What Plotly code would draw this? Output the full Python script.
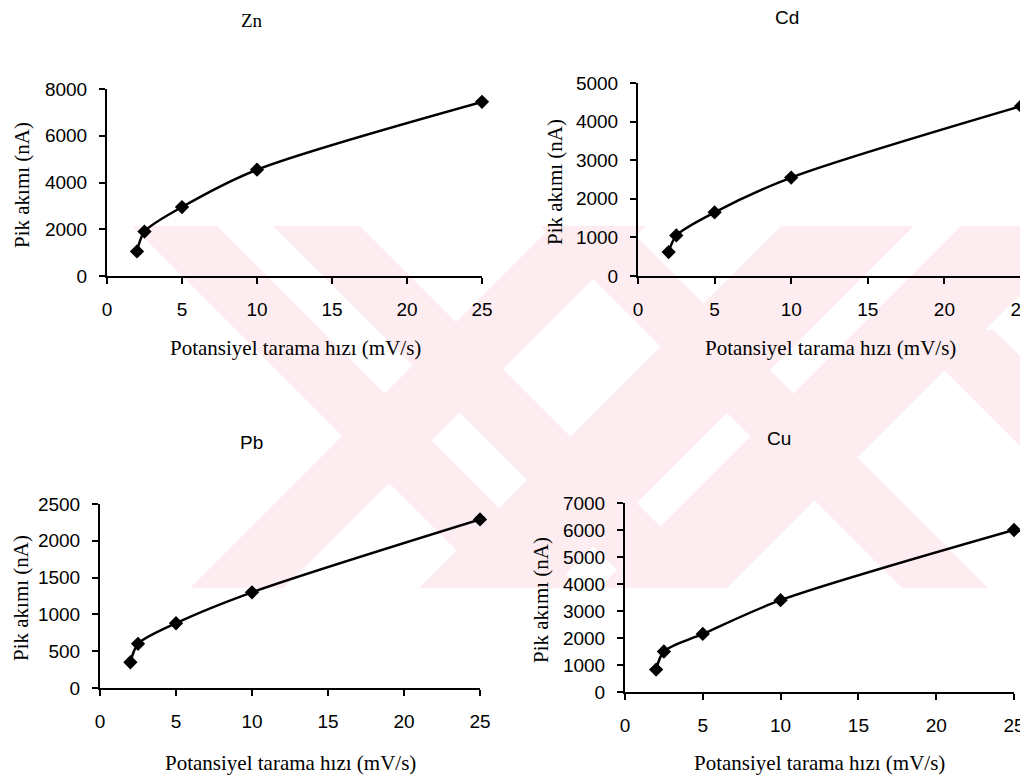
import plotly.graph_objects as go

# ---------------- data ----------------
scan_rate = [2, 2.5, 5, 10, 25]          # Potansiyel tarama hızı (mV/s)
zn_current = [1050, 1900, 2950, 4550, 7450]
cd_current = [620, 1050, 1650, 2550, 4400]
pb_current = [350, 600, 880, 1300, 2290]
cu_current = [830, 1500, 2150, 3400, 6000]

panel_names = ["Zn", "Cd", "Pb", "Cu"]
x_ticks = [0, 5, 10, 15, 20, 25]
y_max = [8000, 5000, 2500, 7000]
y_step = [2000, 1000, 500, 1000]

x_title = "Potansiyel tarama hızı (mV/s)"
y_title = "Pik akımı (nA)"

# the page body has an 8px margin, so the figure is placed at (8, 8)
OFF = 8
W, H = 1028 - OFF, 780 - OFF
SANS = "Liberation Sans, Arial, sans-serif"
SERIF = "Liberation Serif, Times New Roman, serif"

def px(x):
    return (x - OFF) / W

def py(y):
    return 1 - (y - OFF) / H

# panel pixel boxes in page pixels: (left, right, bottom, top)
boxes = [(107, 482, 276, 89), (638, 1021, 276, 83), (100, 480, 688, 504), (625, 1014, 692, 503)]
series = [zn_current, cd_current, pb_current, cu_current]

fig = go.Figure()
layout = dict(
    width=W, height=H, margin=dict(l=0, r=0, t=0, b=0, autoexpand=False),
    paper_bgcolor="white", plot_bgcolor="rgba(0,0,0,0)", showlegend=False,
)

for i, (box, ys) in enumerate(zip(boxes, series)):
    k = "" if i == 0 else str(i + 1)
    l, r, b, t = box
    fig.add_trace(go.Scatter(
        x=scan_rate, y=ys, mode="lines+markers",
        line=dict(color="black", width=2.5, shape="spline", smoothing=0.8),
        marker=dict(symbol="diamond", size=11, color="black"),
        xaxis="x" + k, yaxis="y" + k, cliponaxis=False,
    ))
    common = dict(showline=True, linecolor="black", linewidth=2, ticks="outside",
                  ticklen=6, tickwidth=2, tickcolor="black", showgrid=False,
                  zeroline=False, tickfont=dict(family=SANS, size=19, color="black"),
                  fixedrange=True, automargin=False, ticklabeloverflow="allow")
    layout["xaxis" + k] = dict(common, domain=[px(l), px(r)], range=[0, 25],
                               tickvals=x_ticks, anchor="y" + k, ticklabelstandoff=9)
    layout["yaxis" + k] = dict(common, domain=[py(b), py(t)], range=[0, y_max[i]],
                               dtick=y_step[i], anchor="x" + k, ticklabelstandoff=8)

fig.update_layout(**layout)

# titles and axis titles (page pixel positions)
title_pos = [(252, 21, SERIF, 19), (787, 17, SANS, 19), (251, 442, SANS, 19), (779, 438, SANS, 19)]
xt_pos = [(295, 348), (830, 348), (290, 763), (819, 763)]
yt_pos = [(22, 185), (555, 182), (21, 598), (541, 600)]
for i in range(4):
    tx, ty, fam, fs = title_pos[i]
    fig.add_annotation(x=px(tx), y=py(ty), xref="paper", yref="paper", text=panel_names[i],
                       showarrow=False, font=dict(family=fam, size=fs, color="black"),
                       xanchor="center", yanchor="middle")
    fig.add_annotation(x=px(xt_pos[i][0]), y=py(xt_pos[i][1]), xref="paper", yref="paper",
                       text=x_title, showarrow=False,
                       font=dict(family=SERIF, size=21, color="black"),
                       xanchor="center", yanchor="middle")
    fig.add_annotation(x=px(yt_pos[i][0]), y=py(yt_pos[i][1]), xref="paper", yref="paper",
                       text=y_title, showarrow=False, textangle=-90,
                       font=dict(family=SERIF, size=21, color="black"),
                       xanchor="center", yanchor="middle")

# background watermark (light pink diagonal stripes in the band between the rows)
band_top, band_bot = 226, 588
pink = "#fdedf0"
# stripes: x at band top, width, direction (+1 = "\", -1 = "/"), starting y
stripes = [(132, 85, 1, band_top), (273, 87, 1, band_top), (540, 86, 1, band_top),
           (552, 94, -1, band_top), (781, 133, -1, band_top), (961, 128, -1, band_top),
           (800, 90, 1, 330)]
for x0, w, d, ys in stripes:
    xa = x0 + d * (ys - band_top)
    xb = xa + d * (band_bot - ys)
    path = (f"M{px(xa)},{py(ys)} L{px(xa + w)},{py(ys)} "
            f"L{px(xb + w)},{py(band_bot)} L{px(xb)},{py(band_bot)} Z")
    fig.add_shape(type="path", path=path, xref="paper", yref="paper",
                  fillcolor=pink, line=dict(width=0), layer="below")

fig.write_html("out.html")
